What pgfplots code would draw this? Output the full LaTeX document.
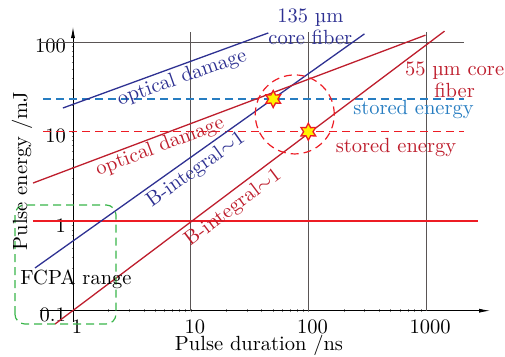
\documentclass[border=0pt]{standalone}
\usepackage{pgfplots}
\pgfplotsset{compat=1.18}
\usetikzlibrary{arrows.meta}
\definecolor{navy}{RGB}{46,49,146}
\definecolor{dred}{RGB}{190,30,45}
\definecolor{bred}{RGB}{237,28,36}
\definecolor{lblue}{RGB}{39,125,193}
\definecolor{fgreen}{RGB}{57,181,74}
\definecolor{gridc}{RGB}{90,85,85}
\tikzset{dashpat/.style={dash pattern=on 8pt off 5pt},
  tx/.style={font=\fontsize{10}{12}\selectfont, scale=2.05}}
\pgfdeclareplotmark{sixstar}{%
  \pgfpathmoveto{\pgfpointpolar{90}{\pgfplotmarksize}}%
  \pgfpathlineto{\pgfpointpolar{120}{0.55\pgfplotmarksize}}%
  \pgfpathlineto{\pgfpointpolar{150}{\pgfplotmarksize}}%
  \pgfpathlineto{\pgfpointpolar{180}{0.55\pgfplotmarksize}}%
  \pgfpathlineto{\pgfpointpolar{210}{\pgfplotmarksize}}%
  \pgfpathlineto{\pgfpointpolar{240}{0.55\pgfplotmarksize}}%
  \pgfpathlineto{\pgfpointpolar{270}{\pgfplotmarksize}}%
  \pgfpathlineto{\pgfpointpolar{300}{0.55\pgfplotmarksize}}%
  \pgfpathlineto{\pgfpointpolar{330}{\pgfplotmarksize}}%
  \pgfpathlineto{\pgfpointpolar{0}{0.55\pgfplotmarksize}}%
  \pgfpathlineto{\pgfpointpolar{30}{\pgfplotmarksize}}%
  \pgfpathlineto{\pgfpointpolar{60}{0.55\pgfplotmarksize}}%
  \pgfpathclose
  \pgfusepathqfillstroke}
\begin{document}
\begin{tikzpicture}
\useasboundingbox (0,0) rectangle (505pt,356pt);
\begin{axis}[
  at={(73pt,45.3pt)}, anchor=south west,
  scale only axis, width=417pt, height=283.7pt,
  xmode=log, ymode=log,
  xmin=1, xmax=3500, ymin=0.1, ymax=148,
  axis lines=left,
  axis line style={line width=0.8pt, -{Latex[length=11pt,width=4pt]}},
  xtick={1,10,100,1000}, xticklabels={1,10,100,1000},
  ytick={0.1,1,10,100}, yticklabels={0.1,1,10,100},
  major tick length=0pt, minor tick num=0,
  tick label style={tx},
  xticklabel style={yshift=-1pt, xshift=2pt},
  yticklabel style={yshift=-2pt},
  clip=false,
]
% axis extensions and grid
\draw[line width=0.8pt] (axis cs:0.52,0.1) -- (axis cs:1,0.1);
\draw[line width=0.8pt] (axis cs:1,0.075) -- (axis cs:1,0.1);
\addplot[gridc, line width=0.6pt] coordinates {(0.52,100) (2090,100)};
\addplot[gridc, line width=0.6pt] coordinates {(10,0.1) (10,130)};
\addplot[gridc, line width=0.6pt] coordinates {(100,0.1) (100,130)};
\addplot[gridc, line width=0.6pt] coordinates {(1000,0.1) (1000,130)};
% horizontal lines
\addplot[color=bred, line width=2pt] coordinates {(0.457,1) (2743,1)};
\addplot[color=lblue, line width=1.3pt, dashpat] coordinates {(0.556,23.2) (2090,23.2)};
\addplot[color=bred, line width=1.4pt, dashpat] coordinates {(0.556,10) (2090,10)};
% 135 um core fiber
\addplot[navy, line width=1.3pt] coordinates {(0.82,18.4) (45.7,127)};
\addplot[navy, line width=1.3pt] coordinates {(0.475,0.30) (300,124)};
% 55 um core fiber
\addplot[dred, line width=1.3pt] coordinates {(0.457,2.67) (990,120)};
\addplot[dred, line width=1.3pt] coordinates {(0.703,0.071) (1437,133)};
% circle and FCPA box
\draw[bred, line width=1.2pt, dashpat] (axis cs:76.7,15.6) circle[radius=39.5pt];
\draw[fgreen, line width=1.2pt, dashpat, rounded corners=10pt] (axis cs:0.321,0.071) rectangle (axis cs:2.32,1.52);
% stars
\addplot[only marks, mark=sixstar, mark size=8.5pt, mark options={fill=yellow, draw=bred, line width=1.3pt}] coordinates {(50.3,23.2) (100,10)};
% labels
\node[navy, rotate=19.5, tx] at (axis cs:8.47,39.8) {optical damage};
\node[dred, rotate=20.7, tx] at (axis cs:5.5,6.75) {optical damage};
\node[navy, rotate=35.5, tx] at (axis cs:11.1,3.73) {B-integral$\sim$1};
\node[dred, rotate=37, tx] at (axis cs:23.0,1.40) {B-integral$\sim$1};
\node[navy, tx, align=center, inner sep=0pt] at (axis cs:104,148) {135 µm\\[-1pt]core fiber};
\node[dred, tx, align=center, inner sep=0pt] at (axis cs:1750,37.9) {55 µm core\\[-1pt]fiber};
\node[lblue, tx] at (axis cs:783,17.5) {stored energy};
\node[dred, tx] at (axis cs:556,6.75) {stored energy};
\node[black, tx] at (axis cs:1.06,0.226) {FCPA range};
\end{axis}
\node[tx] at (259pt,11pt) {Pulse duration /ns};
\node[tx, rotate=90] at (22pt,185pt) {Pulse energy /mJ};
\end{tikzpicture}
\end{document}
